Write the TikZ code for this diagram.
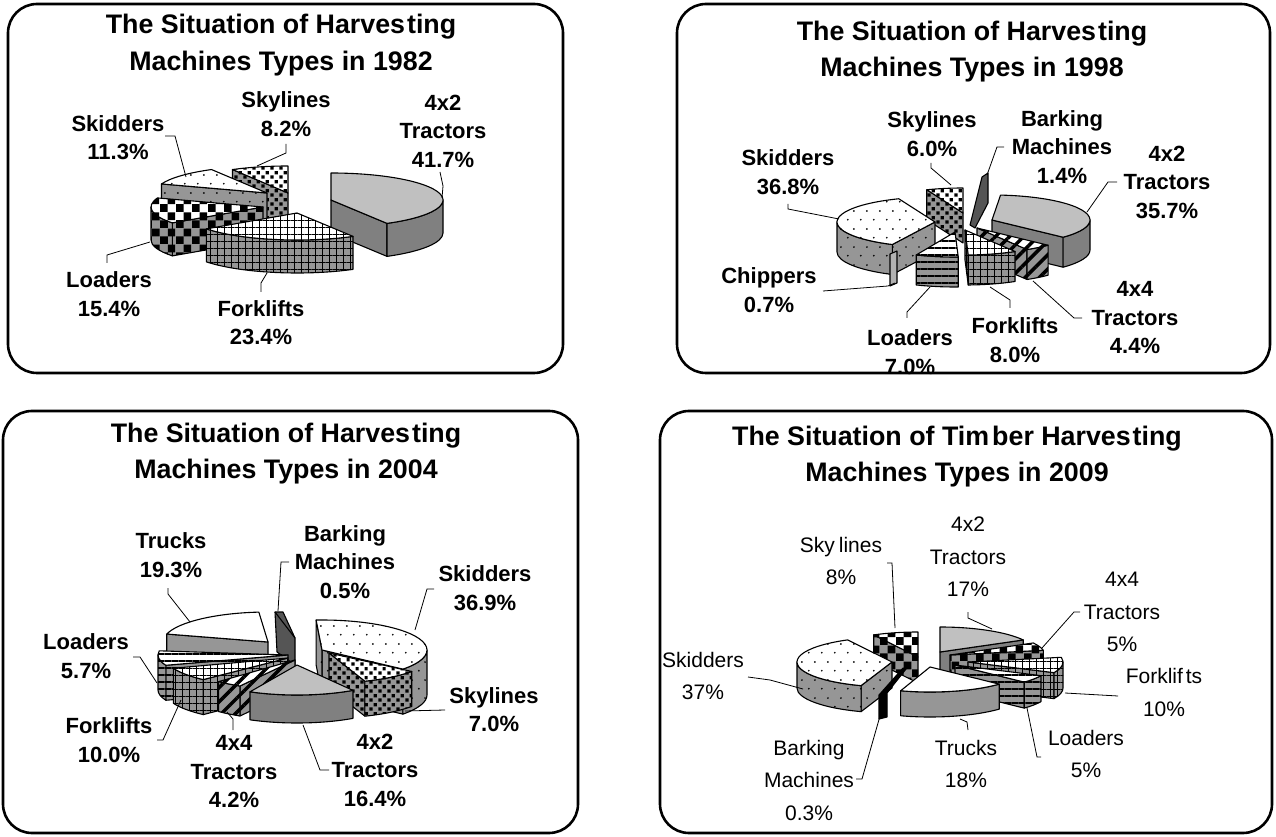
\documentclass[tikz,border=0pt]{standalone}
\usepackage{fontspec}
\setmainfont{Liberation Sans}
\usetikzlibrary{calc,patterns,patterns.meta}
\definecolor{lg}{RGB}{192,192,192}
\definecolor{dg}{RGB}{128,128,128}
\definecolor{mg}{RGB}{150,150,150}
\definecolor{bk}{RGB}{85,85,85}
\definecolor{chp}{RGB}{178,178,178}
\tikzdeclarepattern{name=sqp, type=uncolored, bottom left={(0pt,0pt)}, top right={(9pt,9pt)}, tile size={(9pt,9pt)},
  code={\fill (0.5pt,0.5pt) rectangle (4pt,4pt); \fill (5pt,5pt) rectangle (8.5pt,8.5pt);}}
\tikzdeclarepattern{name=chkp, type=uncolored, bottom left={(0pt,0pt)}, top right={(16pt,16pt)}, tile size={(16pt,16pt)},
  code={\fill (0pt,0pt) rectangle (8pt,8pt); \fill (8pt,8pt) rectangle (16pt,16pt);}}
\tikzdeclarepattern{name=dotp, type=uncolored, bottom left={(0pt,0pt)}, top right={(13pt,18pt)}, tile size={(13pt,18pt)},
  code={\fill (3pt,4.5pt) circle (1pt); \fill (9.5pt,13.5pt) circle (1pt);}}
\tikzset{
 slb/.style={draw=black, line width=1.1pt, line join=round},
 grtop/.style={slb, fill=lg},
 grside/.style={slb, fill=dg},
 whtop/.style={slb, fill=white},
 trside/.style={slb, fill=mg},
 dottop/.style={slb, preaction={fill=white}, pattern=dotp},
 dotside/.style={slb, preaction={fill=mg}, pattern=dotp},
 sqtop/.style={slb, preaction={fill=white}, pattern=sqp},
 sqside/.style={slb, preaction={fill=mg}, pattern=sqp},
 chktop/.style={slb, preaction={fill=white}, pattern=chkp},
 chkside/.style={slb, preaction={fill=mg}, pattern=chkp},
 gridtop/.style={slb, preaction={fill=white}, pattern={Hatch[angle=0,distance=7pt,line width=0.9pt]}},
 gridside/.style={slb, preaction={fill=mg}, pattern={Hatch[angle=0,distance=7pt,line width=0.9pt]}},
 hltop/.style={slb, preaction={fill=white}, pattern={Lines[angle=0,distance=7pt,line width=2.2pt]}},
 hlside/.style={slb, preaction={fill=mg}, pattern={Lines[angle=0,distance=7pt,line width=2.2pt]}},
 diagtop/.style={slb, preaction={fill=white}, pattern={Lines[angle=45,distance=10pt,line width=3.5pt]}},
 diagside/.style={slb, preaction={fill=mg}, pattern={Lines[angle=45,distance=10pt,line width=3.5pt]}},
 bkf/.style={slb, fill=bk},
 chpf/.style={slb, fill=chp},
 panel/.style={draw=black, line width=2.6pt, rounded corners=29pt},
 ttl/.style={font=\fontsize{26.8}{36.5}\selectfont\bfseries, align=center, inner sep=0pt},
 lbl/.style={font=\fontsize{22}{28.5}\selectfont\bfseries, align=center, inner sep=0pt},
 lbl4/.style={font=\fontsize{21}{32.5}\selectfont, align=center, inner sep=0pt},
 ldr/.style={draw=black, line width=0.8pt},
}
% apex x, apex y (image), a1, a2, rx, ry, h, top style, side style
\newcommand\pslice[9]{%
 \begingroup
 \pgfmathsetmacro\pA{#3}%
 \pgfmathsetmacro\pB{#4}%
 \coordinate (O) at (#1,-#2);
 \coordinate (Oh) at (#1,{-#2-#7});
 \pgfmathtruncatemacro\vA{cos(\pA)>0.001}%
 \pgfmathtruncatemacro\vB{cos(\pB)<-0.001}%
 \ifnum\vA=1
   \path[#9] (O) -- ($(O)+(\pA:#5 and #6)$) -- ($(Oh)+(\pA:#5 and #6)$) -- (Oh) -- cycle;
 \fi
 \ifnum\vB=1
   \path[#9] (O) -- ($(O)+(\pB:#5 and #6)$) -- ($(Oh)+(\pB:#5 and #6)$) -- (Oh) -- cycle;
 \fi
 \pgfmathsetmacro\pS{max(\pA,180)}%
 \pgfmathsetmacro\pE{min(\pB,360)}%
 \pgfmathtruncatemacro\vO{\pE>\pS}%
 \ifnum\vO=1
   \path[#9] ($(O)+(\pS:#5 and #6)$) arc[start angle=\pS,end angle=\pE,x radius=#5,y radius=#6] -- ++(0,-#7) arc[start angle=\pE,end angle=\pS,x radius=#5,y radius=#6] -- cycle;
 \fi
 \path[#8] (O) -- ($(O)+(\pA:#5 and #6)$) arc[start angle=\pA,end angle=\pB,x radius=#5,y radius=#6] -- cycle;
 \endgroup}
\begin{document}
\begin{tikzpicture}[x=1pt,y=1pt]
\useasboundingbox (0,0) rectangle (1276,836);
\fill[white] (0,0) rectangle (1276,836);
\begin{scope}[shift={(0,836)}]
% ================= Panel 1 : 1982 =================
\pslice{288}{193}{90}{119.7}{112}{27}{33}{sqtop}{sqside}
\pslice{267}{193}{119.7}{160.4}{112}{27}{33}{dottop}{dotside}
\pslice{331}{200}{300}{450}{112}{27}{33}{grtop}{grside}
\pslice{263}{207}{160.4}{216}{112}{27}{33}{chktop}{chkside}
\pslice{297}{213}{216}{300}{112}{27}{33}{gridtop}{gridside}
\node[ttl] (t1) at (281,-45) {The Situation of Harves\kern2pt ting\\Machines Types in 1982};
\node[lbl] (l1sk) at (118,-137.5) {Skidders\\11.3\%};
\node[lbl] (l1sy) at (286,-114) {Skylines\\8.2\%};
\node[lbl] (l1tr) at (443,-131) {4x2\\Tractors\\41.7\%};
\node[lbl] (l1lo) at (109,-294) {Loaders\\15.4\%};
\node[lbl] (l1fo) at (261,-322.5) {Forklifts\\23.4\%};
\coordinate (a1) at (165,-136); \coordinate (a2) at (175,-136); \coordinate (a3) at (186,-177);
\draw[ldr] (a1) -- (a2) -- (a3);
\coordinate (b1) at (286,-144); \coordinate (b2) at (286,-153); \coordinate (b3) at (257,-166);
\draw[ldr] (b1) -- (b2) -- (b3);
\coordinate (c1) at (440,-172); \coordinate (c2) at (443,-186); \coordinate (c3) at (442,-198);
\draw[ldr] (c1) -- (c2) -- (c3);
\coordinate (d1) at (107,-263); \coordinate (d2) at (107,-255); \coordinate (d3) at (150,-242);
\draw[ldr] (d1) -- (d2) -- (d3);
\coordinate (e1) at (261,-292); \coordinate (e2) at (261,-283); \coordinate (e3) at (267,-273);
\draw[ldr] (e1) -- (e2) -- (e3);
% ================= Panel 2 : 1998 =================
\pslice{963}{213}{90}{111.7}{98}{25}{30}{sqtop}{sqside}
\path[bkf] (982,-177) -- (988,-173) -- (988,-203) -- (975,-228) -- (970,-225) -- cycle;
\pslice{992}{220}{316.5}{445}{98}{25}{30}{grtop}{grside}
\pslice{935}{222}{111.7}{244.2}{98}{25}{30}{dottop}{dotside}
\pslice{977}{228}{300.7}{316.5}{98}{25}{30}{diagtop}{diagside}
\path[chpf] (890,-254) -- (897,-251) -- (897,-283) -- (890,-286) -- cycle;
\pslice{955}{232}{246.7}{271.9}{98}{25}{30}{hltop}{hlside}
\pslice{965}{230}{271.9}{300.7}{98}{25}{30}{gridtop}{gridside}
\node[ttl] (t2) at (972,-51.5) {The Situation of Harves\kern2pt ting\\Machines Types in 1998};
\node[lbl] (l2sy) at (932,-134) {Skylines\\6.0\%};
\node[lbl] (l2bk) at (1062,-147) {Barking\\Machines\\1.4\%};
\node[lbl] (l2tr) at (1167,-182) {4x2\\Tractors\\35.7\%};
\node[lbl] (l2sk) at (788,-172) {Skidders\\36.8\%};
\node[lbl] (l2ch) at (769,-290) {Chippers\\0.7\%};
\node[lbl] (l2lo) at (910,-352) {Loaders\\7.0\%};
\node[lbl] (l2fo) at (1015,-340) {Forklifts\\8.0\%};
\node[lbl] (l2t4) at (1135,-318) {4x4\\Tractors\\4.4\%};
\coordinate (f1) at (788,-204); \coordinate (f2) at (788,-209); \coordinate (f3) at (839,-219);
\draw[ldr] (f1) -- (f2) -- (f3);
\coordinate (g1) at (931,-163); \coordinate (g2) at (931,-168); \coordinate (g3) at (951,-185);
\draw[ldr] (g1) -- (g2) -- (g3);
\coordinate (h1) at (1004,-147); \coordinate (h2) at (997,-147); \coordinate (h3) at (987,-175);
\draw[ldr] (h1) -- (h2) -- (h3);
\coordinate (i1) at (1117,-182); \coordinate (i2) at (1108,-182); \coordinate (i3) at (1087,-212);
\draw[ldr] (i1) -- (i2) -- (i3);
\coordinate (j1) at (1082,-318); \coordinate (j2) at (1074,-318); \coordinate (j3) at (1033,-281);
\draw[ldr] (j1) -- (j2) -- (j3);
\coordinate (k1) at (1010,-308); \coordinate (k2) at (1010,-300); \coordinate (k3) at (990,-287);
\draw[ldr] (k1) -- (k2) -- (k3);
\coordinate (m1) at (907,-318); \coordinate (m2) at (907,-312); \coordinate (m3) at (930,-287);
\draw[ldr] (m1) -- (m2) -- (m3);
\coordinate (n1) at (823,-291); \coordinate (n2) at (888,-286); \coordinate (n3) at (895,-283);
\draw[ldr] (n1) -- (n2) -- (n3);
% ================= Panel 3 : 2004 =================
\pslice{268}{642}{95}{164.6}{105}{30}{25}{whtop}{trside}
\path[bkf] (275,-612) -- (283,-612) -- (295,-638) -- (295,-665) -- (277,-652) -- cycle;
\draw[slb] (275,-612) -- (295,-638);
\pslice{322}{650}{320.4}{453.2}{105}{30}{45}{dottop}{dotside}
\pslice{288}{655}{172}{200}{130}{30}{35}{hltop}{hlside}
\pslice{288}{658}{200}{226}{122}{30}{35}{gridtop}{gridside}
\pslice{329}{653}{290}{322}{105}{30}{35}{sqtop}{sqside}
\pslice{295}{660}{226}{240}{110}{30}{30}{diagtop}{diagside}
\pslice{297}{665}{243.4}{302.2}{105}{30}{28}{grtop}{grside}
\node[ttl] (t3) at (286,-453.5) {The Situation of Harves\kern2pt ting\\Machines Types in 2004};
\node[lbl] (l3tk) at (171,-555) {Trucks\\19.3\%};
\node[lbl] (l3bk) at (345,-562) {Barking\\Machines\\0.5\%};
\node[lbl] (l3sk) at (485,-588) {Skidders\\36.9\%};
\node[lbl] (l3lo) at (86,-656) {Loaders\\5.7\%};
\node[lbl] (l3sy) at (494,-709.5) {Skylines\\7.0\%};
\node[lbl] (l3fo) at (109,-740) {Forklifts\\10.0\%};
\node[lbl] (l3t4) at (234,-772) {4x4\\Tractors\\4.2\%};
\node[lbl] (l3t2) at (375,-770) {4x2\\Tractors\\16.4\%};
\coordinate (o1) at (168,-588); \coordinate (o2) at (168,-594); \coordinate (o3) at (190,-622);
\draw[ldr] (o1) -- (o2) -- (o3);
\coordinate (q1) at (289,-562); \coordinate (q2) at (281,-562); \coordinate (q3) at (278,-611);
\draw[ldr] (q1) -- (q2) -- (q3);
\coordinate (r1) at (434,-589); \coordinate (r2) at (427,-589); \coordinate (r3) at (415,-630);
\draw[ldr] (r1) -- (r2) -- (r3);
\coordinate (s1) at (133,-657); \coordinate (s2) at (140,-657); \coordinate (s3) at (157,-683);
\draw[ldr] (s1) -- (s2) -- (s3);
\coordinate (u1) at (445,-710); \coordinate (u2) at (405,-711);
\draw[ldr] (u1) -- (u2);
\coordinate (v1) at (157,-740); \coordinate (v2) at (163,-740); \coordinate (v3) at (181,-700);
\draw[ldr] (v1) -- (v2) -- (v3);
\coordinate (w1) at (233,-730); \coordinate (w2) at (233,-719); \coordinate (w3) at (227,-712);
\draw[ldr] (w1) -- (w2) -- (w3);
\coordinate (x1) at (329,-770); \coordinate (x2) at (320,-770); \coordinate (x3) at (303,-725);
\draw[ldr] (x1) -- (x2) -- (x3);
% ================= Panel 4 : 2009 =================
\pslice{918}{657}{90}{117.8}{95}{25}{26}{chktop}{chkside}
\pslice{940}{652}{28.8}{90}{95}{25}{26}{grtop}{grside}
\pslice{892}{662}{117.8}{251}{95}{25}{26}{dottop}{dotside}
\pslice{950}{655}{10.8}{28.8}{95}{25}{26}{chktop}{chkside}
\pslice{968}{662}{334.8}{370.8}{95}{25}{26}{gridtop}{gridside}
\pslice{955}{665}{316.8}{334.8}{95}{25}{26}{hltop}{hlside}
\path[slb, fill=black] (879,-695) -- (903,-668) -- (906,-669) -- (887,-693) -- (887,-717) -- (879,-719) -- cycle;
\pslice{930}{667}{252}{316.8}{95}{25}{25}{whtop}{trside}
\node[ttl] (t4) at (957,-456.5) {The Situation of Tim\kern3pt ber Harves\kern2pt ting\\Machines Types in 2009};
\node[lbl4] (l4sy) at (841,-561) {Sky\kern4pt lines\\8\%};
\node[lbl4] (l4t2) at (968,-557) {4x2\\Tractors\\17\%};
\node[lbl4] (l4t4) at (1122,-612) {4x4\\Tractors\\5\%};
\node[lbl4] (l4sk) at (703,-676) {Skidders\\37\%};
\node[lbl4] (l4fo) at (1164,-692.5) {Forklif\kern3pt ts\\10\%};
\node[lbl4] (l4lo) at (1086,-754) {Loaders\\5\%};
\node[lbl4] (l4tk) at (966,-764) {Trucks\\18\%};
\node[lbl4] (l4bk) at (809,-780) {Barking\\Machines\\0.3\%};
\coordinate (y1) at (887,-563); \coordinate (y2) at (892,-563); \coordinate (y3) at (895,-628);
\draw[ldr] (y1) -- (y2) -- (y3);
\coordinate (z1) at (968,-612); \coordinate (z2) at (968,-618); \coordinate (z3) at (992,-629);
\draw[ldr] (z1) -- (z2) -- (z3);
\coordinate (aa1) at (1080,-612); \coordinate (aa2) at (1074,-612); \coordinate (aa3) at (1042,-648);
\draw[ldr] (aa1) -- (aa2) -- (aa3);
\coordinate (bb1) at (748,-677); \coordinate (bb2) at (770,-680); \coordinate (bb3) at (803,-689);
\draw[ldr] (bb1) -- (bb2) -- (bb3);
\coordinate (cc1) at (1118,-696); \coordinate (cc2) at (1065,-693);
\draw[ldr] (cc1) -- (cc2);
\coordinate (dd1) at (1041,-757); \coordinate (dd2) at (1037,-757); \coordinate (dd3) at (1027,-708);
\draw[ldr] (dd1) -- (dd2) -- (dd3);
\coordinate (ee1) at (960,-719); \coordinate (ee2) at (967,-722); \coordinate (ee3) at (968,-730);
\draw[ldr] (ee1) -- (ee2) -- (ee3);
\coordinate (ff1) at (856,-779); \coordinate (ff2) at (862,-779); \coordinate (ff3) at (880,-716);
\draw[ldr] (ff1) -- (ff2) -- (ff3);
% ================= Panel frames =================
\draw[panel] (8,-4) rectangle (563,-373);
\draw[panel] (677,-4) rectangle (1270,-373);
\draw[panel] (3,-411) rectangle (578,-833);
\draw[panel] (660,-411) rectangle (1272,-833);
\end{scope}
\end{tikzpicture}
\end{document}
